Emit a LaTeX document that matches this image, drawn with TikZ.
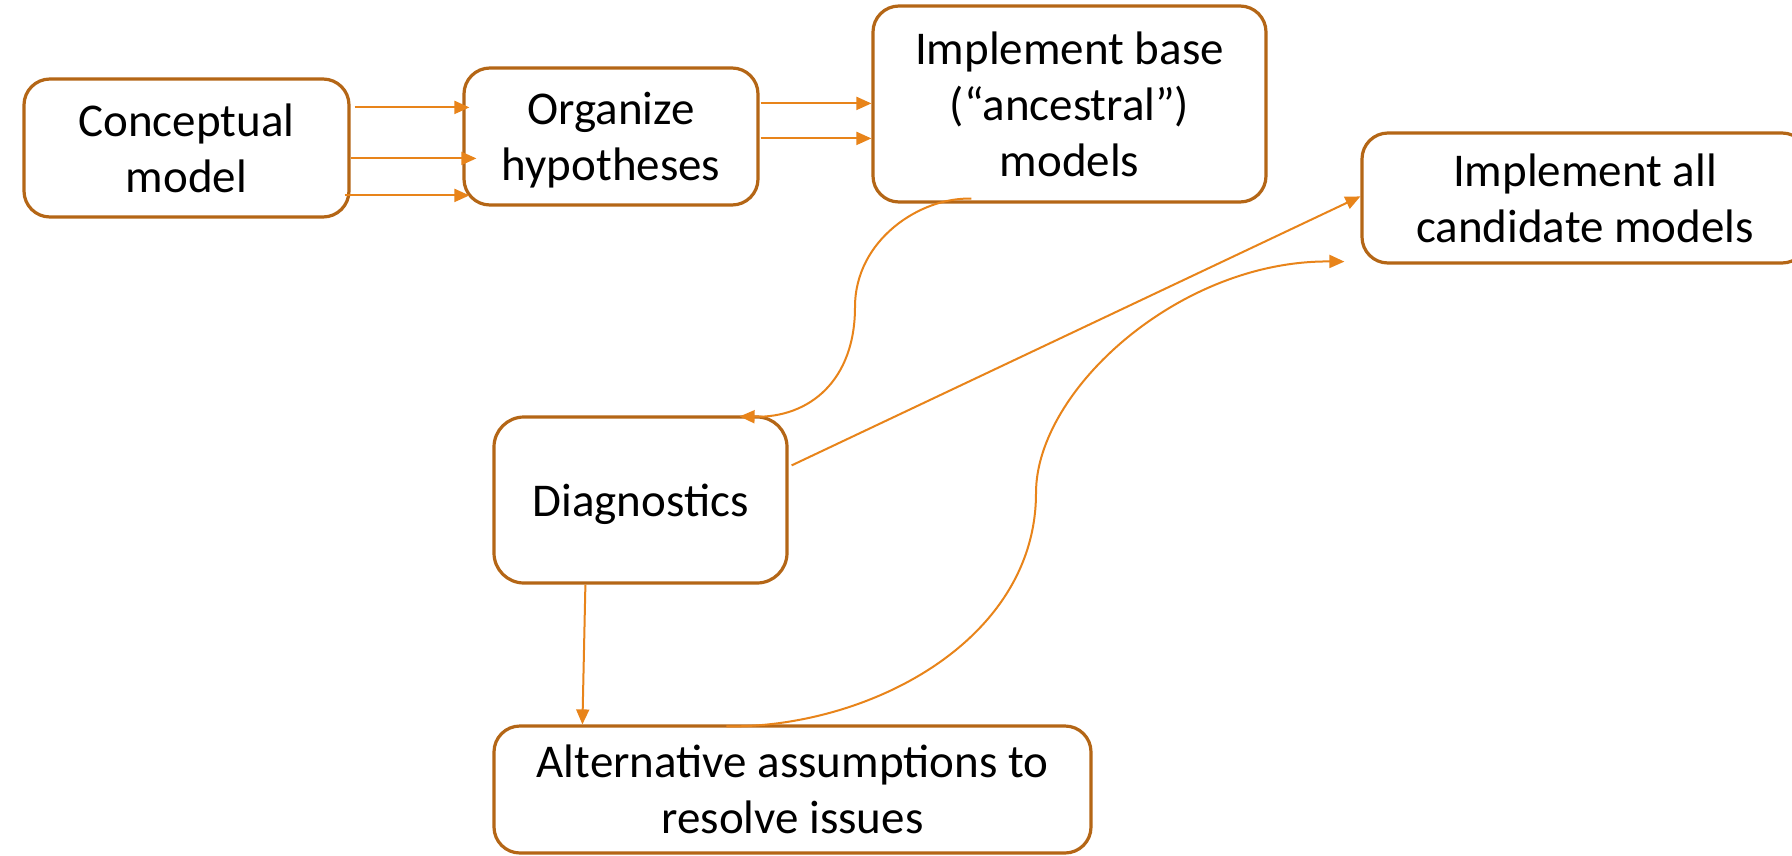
\documentclass[tikz,border=0pt]{standalone}
\usepackage{fontspec}
\setmainfont{Carlito}
\usetikzlibrary{arrows.meta}
\definecolor{boxline}{RGB}{180,102,22}
\definecolor{conncol}{RGB}{232,132,26}
\newcommand\mytopstrut{\rule{0pt}{44pt}}
\newcommand\mybotstrut{\rule[-12pt]{0pt}{12pt}}
\begin{document}
\begin{tikzpicture}[x=1pt,y=-1pt,
  stepbox/.style={draw=boxline,line width=3.2pt,rounded corners=26pt,fill=white,
    align=center,inner sep=0pt,font=\fontsize{47}{56}\selectfont},
  conn/.style={draw=conncol,line width=2pt,-{Triangle[length=15pt,width=13pt]}}]
\useasboundingbox (0,0) rectangle (1792,855);
\fill[white] (0,0) rectangle (1792,855);
\node[stepbox,minimum width=325pt,minimum height=138pt] (cm) at (186.5,148) {\mytopstrut Conceptual\\model\mybotstrut};
\node[stepbox,minimum width=294pt,minimum height=137pt] (org) at (611,136.5) {\mytopstrut Organize\\hypotheses\mybotstrut};
\node[stepbox,minimum width=393pt,minimum height=196pt] (base) at (1069.5,104) {\mytopstrut Implement base\\(“ancestral”)\\models\mybotstrut};
\node[stepbox,minimum width=446pt,minimum height=130pt] (all) at (1585,198) {\mytopstrut Implement all\\candidate models\mybotstrut};
\node[stepbox,minimum width=293pt,minimum height=166pt,rounded corners=30pt] (diag) at (640.5,500) {\mytopstrut Diagnostics\mybotstrut};
\node[stepbox,minimum width=597pt,minimum height=127pt] (alt) at (792.5,789.5) {\mytopstrut Alternative assumptions to\\resolve issues\mybotstrut};
% conceptual -> organize
\draw[conn] ([shift={(4,30)}]cm.north east) -- ([shift={(7,41)}]org.north west);
\draw[conn] ([shift={(0,81)}]cm.north east) -- ([shift={(14,92)}]org.north west);
\draw[conn] ([shift={(-6,118)}]cm.north east) -- ([shift={(7,129)}]org.north west);
% organize -> base
\draw[conn] ([shift={(1,37)}]org.north east) -- ([shift={(0,99)}]base.north west);
\draw[conn] ([shift={(1,72)}]org.north east) -- ([shift={(0,134)}]base.north west);
% base -> diagnostics
\coordinate (bmid) at (855,307);
\draw[conn] ([shift={(100,-5)}]base.south west) .. controls (920,197) and (855,240) .. (bmid)
  .. controls (855,380) and (810,418) .. ([shift={(-49,1)}]diag.north east);
% diagnostics -> all
\draw[conn] ([shift={(3,50)}]diag.north east) -- ([shift={(0,65)}]all.north west);
% diagnostics -> alt
\draw[conn] ([shift={(93,0)}]diag.south west) -- ([shift={(90,0)}]alt.north west);
% alt -> all
\coordinate (amid) at (1036,493);
\draw[conn] ([shift={(234,2)}]alt.north west) .. controls (870,728) and (1036,640) .. (amid)
  .. controls (1036,390) and (1180,260) .. ([shift={(-16,-3)}]all.south west);
\end{tikzpicture}
\end{document}
